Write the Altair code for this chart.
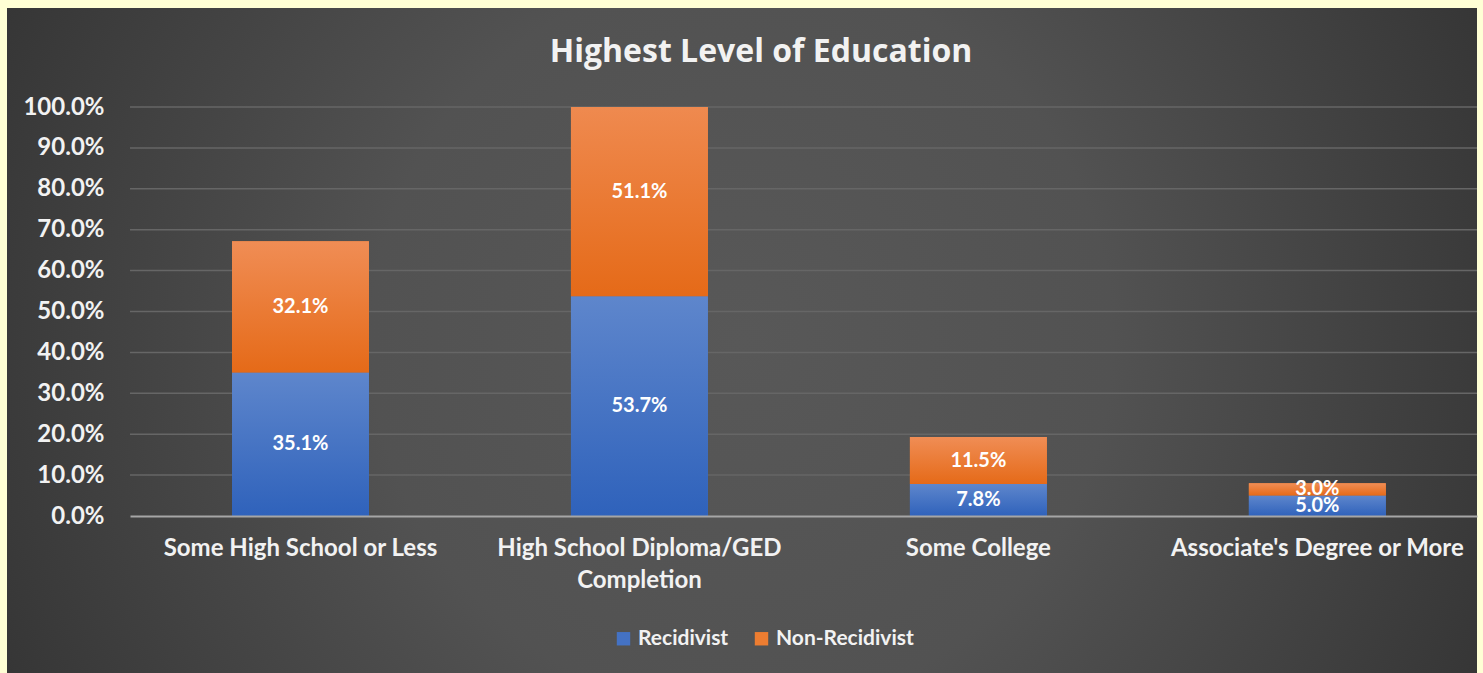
import altair as alt
import pandas as pd

title_text = "Highest Level of Education"
categories = ["Some High School or Less", "High School Diploma/GED Completion",
              "Some College", "Associate's Degree or More"]
series = ["Recidivist", "Non-Recidivist"]
recidivist = [0.351, 0.537, 0.078, 0.050]
non_recidivist = [0.321, 0.511, 0.115, 0.030]
y_ticks = [i / 10 for i in range(11)]

rows = []
for c, r, n in zip(categories, recidivist, non_recidivist):
    rows.append({"cat": c, "series": series[0], "val": r, "lo": 0.0, "hi": r, "mid": r / 2})
    rows.append({"cat": c, "series": series[1], "val": n, "lo": r, "hi": r + n, "mid": r + n / 2})
df = pd.DataFrame(rows)

FONT = "Lato"
TXT = "#f2f2f2"
W, H = 1347, 409

x_scale = alt.Scale(paddingInner=0.596, paddingOuter=0.285, align=0.528)
x_enc = alt.X("cat:N", sort=categories, title=None, scale=x_scale,
              axis=alt.Axis(labelAngle=0, labelFont=FONT, labelFontSize=24, labelFontWeight="bold",
                            labelColor=TXT, labelPadding=20, labelLineHeight=32, ticks=False,
                            domainColor="#a6a6a6", domainWidth=2, zindex=1, labelLimit=400,
                            labelExpr="datum.label == 'High School Diploma/GED Completion' ? ['High School Diploma/GED', 'Completion'] : datum.label"))
y_scale = alt.Scale(domain=[0, 1], nice=False, zero=True)

bg = alt.Chart(pd.DataFrame({"a": [0]})).mark_rect(
    clip=False,
    color=alt.RadialGradient(gradient="radial",
                             stops=[alt.GradientStop(offset=0, color="#585858"),
                                    alt.GradientStop(offset=0.35, color="#525252"),
                                    alt.GradientStop(offset=1, color="#262626")],
                             x1=0.5, y1=0.5, r1=0, x2=0.5, y2=0.5, r2=0.72)
).encode(x=alt.value(-123), x2=alt.value(1347), y=alt.value(-99), y2=alt.value(566))

title = alt.Chart(pd.DataFrame({"t": [title_text]})).mark_text(
    font="Open Sans", fontSize=32, fontWeight="bold", color=TXT, baseline="alphabetic",
    align="center", clip=False
).encode(text="t:N", x=alt.value(631), y=alt.value(-45))

grid = alt.Chart(pd.DataFrame({"t": y_ticks[1:]})).mark_rule(color="#666666", strokeWidth=1.5).encode(
    y=alt.Y("t:Q", scale=y_scale), x=alt.value(0), x2=alt.value(W))

base = alt.Chart(df)

bars = base.mark_bar(clip=True).encode(
    x=x_enc,
    y=alt.Y("lo:Q", scale=y_scale, title=None,
            axis=alt.Axis(format=".1%", values=y_ticks, grid=False, ticks=False, domain=False,
                          labelFont=FONT, labelFontSize=24, labelFontWeight="bold",
                          labelColor=TXT, labelPadding=26, zindex=1)),
    y2="hi:Q",
    color=alt.Color("series:N", sort=series,
                    scale=alt.Scale(domain=series, range=["#4472c4", "#ed7d31"]),
                    legend=alt.Legend(title=None, orient="none", legendX=483, legendY=521,
                                      direction="horizontal", symbolType="square", symbolSize=180,
                                      symbolStrokeWidth=0, labelFont=FONT, labelFontSize=21,
                                      labelFontWeight="bold", labelColor=TXT, labelOffset=4,
                                      columnPadding=22, zindex=1)),
)

blue_grad = alt.LinearGradient(gradient="linear", x1=0, y1=0, x2=0, y2=1,
                               stops=[alt.GradientStop(offset=0, color="#5e86cc"),
                                      alt.GradientStop(offset=1, color="#2f62bb")])
orange_grad = alt.LinearGradient(gradient="linear", x1=0, y1=0, x2=0, y2=1,
                                 stops=[alt.GradientStop(offset=0, color="#f08d55"),
                                        alt.GradientStop(offset=1, color="#e56a18")])

blue = base.transform_filter(alt.datum.series == series[0]).mark_bar(clip=True, color=blue_grad).encode(
    x=alt.X("cat:N", sort=categories, scale=x_scale), y=alt.Y("lo:Q", scale=y_scale), y2="hi:Q")
orange = base.transform_filter(alt.datum.series == series[1]).mark_bar(clip=True, color=orange_grad).encode(
    x=alt.X("cat:N", sort=categories, scale=x_scale), y=alt.Y("lo:Q", scale=y_scale), y2="hi:Q")

labels = base.mark_text(font=FONT, fontSize=20, fontWeight="bold", color="#ffffff", baseline="middle").encode(
    x=alt.X("cat:N", sort=categories, scale=x_scale), y=alt.Y("mid:Q", scale=y_scale),
    text=alt.Text("val:Q", format=".1%"))

chart = alt.layer(bg, grid, bars, blue, orange, labels, title).properties(
    width=W, height=H,
    autosize=alt.AutoSizeParams(type="none"),
    padding={"left": 130, "top": 107, "right": 6, "bottom": 157},
    background="#ffffd5",
).configure_view(stroke=None)

chart.save("out.html", embed_options={"renderer": "svg", "actions": False})
